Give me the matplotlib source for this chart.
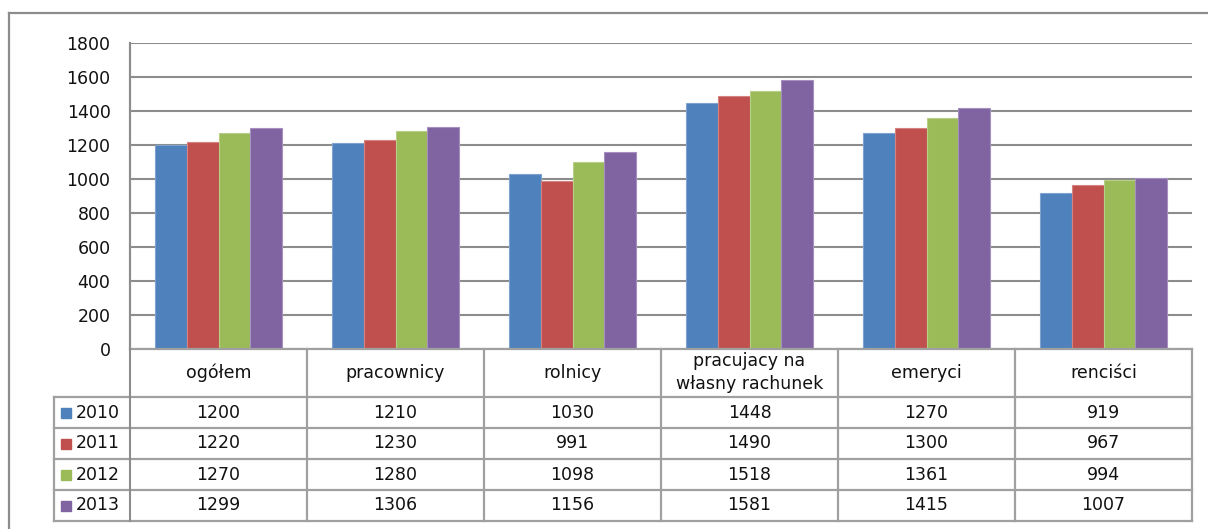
import matplotlib
matplotlib.use("Agg")
import matplotlib.pyplot as plt
from matplotlib.lines import Line2D

categories = ["ogółem", "pracownicy", "rolnicy", "pracujacy na\nwłasny rachunek", "emeryci", "renciści"]
years = ["2010", "2011", "2012", "2013"]
values_2010 = [1200, 1210, 1030, 1448, 1270, 919]
values_2011 = [1220, 1230, 991, 1490, 1300, 967]
values_2012 = [1270, 1280, 1098, 1518, 1361, 994]
values_2013 = [1299, 1306, 1156, 1581, 1415, 1007]
series = [values_2010, values_2011, values_2012, values_2013]
colors = ["#4F81BD", "#C0504D", "#9BBB59", "#8064A2"]
edge_colors = ["#7FA3D0", "#D48380", "#B7CF87", "#A48FBF"]
y_ticks = [0, 200, 400, 600, 800, 1000, 1200, 1400, 1600, 1800]

W, H = 1208, 529
plt.rcParams["font.family"] = ["DejaVu Sans"]
FS = 12.5
fig = plt.figure(figsize=(W / 100, H / 100), dpi=100)

def fx(x):
    return x / W

def fy(y):
    return 1 - y / H

# layout in pixels
L, R, T, B = 130, 1192, 43, 349
row_h = 31
hdr_bottom = 397
leg_left = 54
ncat = len(categories)
col_w = (R - L) / ncat

ax = fig.add_axes([fx(L), fy(B), (R - L) / W, (B - T) / H])
ax.set_xlim(0, ncat)
ax.set_ylim(0, 1800)
bw = 0.18
for k, (vals, c, ec) in enumerate(zip(series, colors, edge_colors)):
    xs = [i + 0.5 + (k - 1.5) * bw for i in range(ncat)]
    ax.bar(xs, vals, width=bw, color=c, edgecolor=ec, linewidth=0.8, zorder=3)
ax.set_yticks(y_ticks)
ax.set_yticklabels([str(t) for t in y_ticks], fontsize=FS, color="#111111")
ax.tick_params(axis="y", length=0, pad=14)
ax.set_xticks([])
ax.grid(axis="y", color="#8C8C8C", linewidth=1.5, zorder=0)
for s in ["top", "right", "bottom"]:
    ax.spines[s].set_visible(False)
ax.spines["left"].set_color("#8C8C8C")
ax.spines["left"].set_linewidth(1.5)

line_c = "#A0A0A0"

def hline(y, x0, x1, c=line_c, lw=1.6):
    fig.add_artist(Line2D([fx(x0), fx(x1)], [fy(y), fy(y)], color=c, lw=lw))

def vline(x, y0, y1, c=line_c, lw=1.6):
    fig.add_artist(Line2D([fx(x), fx(x)], [fy(y0), fy(y1)], color=c, lw=lw))

# outer chart frame
hline(13, 9, W + 5, c="#8C8C8C", lw=1.6)
vline(9, 13, H + 5, c="#8C8C8C", lw=1.6)

# data table grid
table_bottom = hdr_bottom + row_h * len(years)
hline(B, L, R)
hline(hdr_bottom, leg_left, R)
for r in range(1, len(years) + 1):
    hline(hdr_bottom + r * row_h, leg_left, R)
vline(L, T, table_bottom, c="#8C8C8C", lw=1.5)
for i in range(1, ncat + 1):
    vline(L + i * col_w, B, table_bottom)
vline(leg_left, hdr_bottom, table_bottom)

# header row
for i, cat in enumerate(categories):
    fig.text(fx(L + (i + 0.5) * col_w), fy((B + hdr_bottom) / 2 - 0.5), cat,
             ha="center", va="center", fontsize=FS, linespacing=1.3, color="#111111")

# value rows with legend keys
for r, (yr, vals, c) in enumerate(zip(years, series, colors)):
    yc = hdr_bottom + (r + 0.5) * row_h
    fig.patches.append(plt.Rectangle((fx(61), fy(yc + 5)), 10 / W, 10 / H,
                                     transform=fig.transFigure, color=c))
    fig.text(fx(76), fy(yc), yr, ha="left", va="center", fontsize=FS, color="#111111")
    for i, v in enumerate(vals):
        fig.text(fx(L + (i + 0.5) * col_w), fy(yc), str(v),
                 ha="center", va="center", fontsize=FS, color="#111111")

fig.savefig("out.png", dpi=100, facecolor="white")
